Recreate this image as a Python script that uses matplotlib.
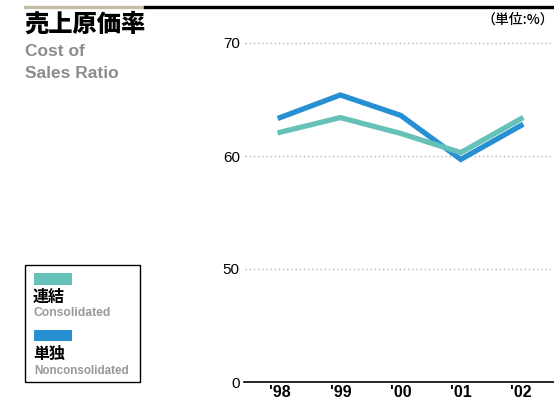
import matplotlib
matplotlib.use('Agg')
import matplotlib.pyplot as plt
from matplotlib.patches import Rectangle
from matplotlib.lines import Line2D

years = ["'98", "'99", "'00", "'01", "'02"]
consolidated = [62.1, 63.4, 62.0, 60.3, 63.3]
nonconsolidated = [63.4, 65.4, 63.6, 59.7, 62.7]
ytick_vals = [40, 50, 60, 70]
ytick_labels = ['0', '50', '60', '70']

teal = '#66c2b8'
blue = '#2690d2'
gray = '#8c8c8c'

jp = ['Noto Sans CJK JP', 'DejaVu Sans']
narrow = ['Liberation Sans', 'DejaVu Sans']   # no condensed face installed
plt.rcParams['font.family'] = ['Liberation Sans', 'DejaVu Sans']

W, H = 554, 405
fig = plt.figure(figsize=(W / 100, H / 100), dpi=100)

# axes placed in pixel terms: 40 -> y=382, 70 -> y=43
ppu = (382 - 43) / 30.0
ytop = 71
ax_bottom = (H - 382) / H
ax_height = (ytop - 40) * ppu / H
ax = fig.add_axes([244 / W, ax_bottom, (W - 244) / W, ax_height])

x = list(range(len(years)))
ax.plot(x, nonconsolidated, color=blue, lw=3.8, solid_joinstyle='miter', zorder=3)
ax.plot(x, consolidated, color=teal, lw=3.8, solid_joinstyle='miter', zorder=4)

ax.set_xlim(-0.6, (W - 280) / 60.25)
ax.set_ylim(40, ytop)

for v in ytick_vals[1:]:
    ax.axhline(v, xmin=1 / (W - 244), color='#a9b5c2', lw=1.0,
               linestyle=(0, (1, 2)), zorder=1)

for s in ['top', 'right', 'left']:
    ax.spines[s].set_visible(False)
ax.spines['bottom'].set_color('black')
ax.spines['bottom'].set_linewidth(1.2)

ax.set_yticks(ytick_vals)
ax.set_yticklabels(ytick_labels, fontsize=11)
ax.tick_params(axis='y', length=0, pad=3)
ax.set_xticks(x)
ax.set_xticklabels(years, fontsize=11.5, fontweight='bold')
ax.tick_params(axis='x', length=0, pad=2)
ax.patch.set_alpha(0)

# top rule
fig.add_artist(Line2D([25 / W, 145 / W], [1 - 6.5 / H] * 2, color='#c8bda9', lw=2.4))
fig.add_artist(Line2D([145 / W, 1], [1 - 6.5 / H] * 2, color='black', lw=2.4))

# titles
fig.text(24 / W, 1 - 24 / H, '売上原価率', family=jp, fontsize=17.5,
         fontweight='heavy', va='center', ha='left')
fig.text(25 / W, 1 - 51 / H, 'Cost of', family=narrow, fontsize=12.5,
         fontweight='bold', color=gray, va='center')
fig.text(25 / W, 1 - 74 / H, 'Sales Ratio', family=narrow, fontsize=12.5,
         fontweight='bold', color=gray, va='center')
fig.text(554 / W, 1 - 20 / H, '（単位:%）', family=jp, fontsize=10,
         fontweight='medium', va='center', ha='right')

# legend box
fig.add_artist(Rectangle((25 / W, 1 - 382 / H), 115 / W, 117 / H,
                         transform=fig.transFigure, fill=False,
                         edgecolor='black', lw=1))
fig.add_artist(Rectangle((34 / W, 1 - 285 / H), 38 / W, 12 / H,
                         transform=fig.transFigure, color=teal, lw=0))
fig.text(33 / W, 1 - 297 / H, '連結', family=jp, fontsize=11.5,
         fontweight='bold', va='center')
fig.text(34 / W, 1 - 313 / H, 'Consolidated', family=narrow, fontsize=8.7,
         fontweight='bold', color='#999999', va='center')
fig.add_artist(Rectangle((34 / W, 1 - 341 / H), 38 / W, 11 / H,
                         transform=fig.transFigure, color=blue, lw=0))
fig.text(33 / W, 1 - 354 / H, '単独', family=jp, fontsize=11.5,
         fontweight='bold', va='center')
fig.text(34 / W, 1 - 371 / H, 'Nonconsolidated', family=narrow, fontsize=8.4,
         fontweight='bold', color='#999999', va='center')

fig.savefig('out.png', dpi=100)
